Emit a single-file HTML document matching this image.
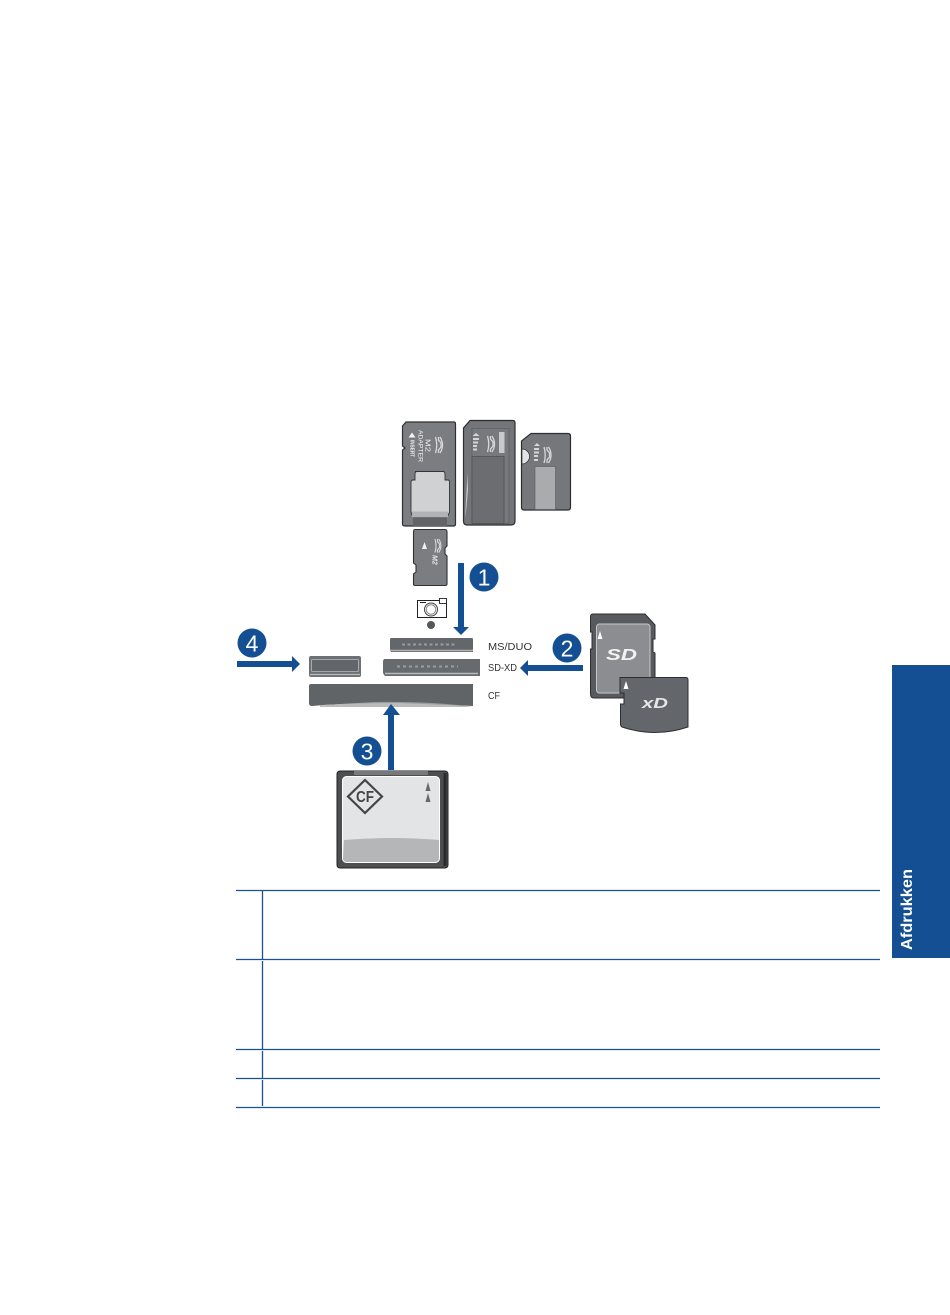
<!DOCTYPE html>
<html><head><meta charset="utf-8"><title>Afdrukken</title>
<style>html,body{margin:0;padding:0;background:#fff;width:950px;height:1315px;overflow:hidden}svg{display:block}text{font-family:"Liberation Sans",sans-serif}</style></head>
<body>
<svg width="950" height="1315" viewBox="0 0 950 1315" xmlns="http://www.w3.org/2000/svg">
<defs>
<g id="logo" fill="none" stroke="#d8d9da" stroke-width="1.300">
<path d="M0 5Q8 0 16 5"/><path d="M0 2.500H3L6 0H10L13 2.500H16" transform="translate(0,4)"/><path d="M0 9.500Q8 7 16 9.500"/>
</g>
</defs>
<rect width="950" height="1315" fill="#fff"/>
<!-- sidebar -->
<rect x="892" y="665" width="58" height="293" fill="#134f92"/>
<text transform="translate(912,950) rotate(-90)" fill="#fff" font-size="16" font-weight="bold" textLength="81" lengthAdjust="spacingAndGlyphs">Afdrukken</text>
<!-- table -->
<g stroke="#165296" stroke-width="1.300" fill="none">
<path d="M236 890.500H880M236 959.500H880M236 1049.500H880M236 1078.500H880M236 1107.500H880"/>
<path d="M262.500 891V959M262.500 961V1049M262.500 1051V1078M262.500 1080V1106"/>
</g>
<!-- M2 adapter -->
<path d="M406 422H454Q455.500 422 455.500 424V524Q455.500 526 454 526H405Q402.500 526 402.500 524V450L405 448L402.500 446V426Z" fill="#7b7d80" stroke="#2e3032" stroke-width="1.200"/>
<path d="M415 471.500H443Q445 471.500 445 474V480H448Q449.500 480 449.500 482V512L447 517.500H413L411 512V482Q411 480 413 480H415V474Q415 471.500 417 471.500Z" fill="#d0d1d3" stroke="#333" stroke-width=".9"/>
<rect x="412" y="511.500" width="36" height="6" fill="#b0b2b4"/>
<rect x="413" y="518" width="34" height="8" fill="#626467"/>
<path d="M412 432.500l-3.500 5h7z" fill="#f2f2f2"/>
<use href="#logo" transform="translate(445,437) rotate(90) scale(1,1)"/>
<text transform="translate(410.500,440) rotate(90)" fill="#eee" font-size="5" font-weight="bold" textLength="17" lengthAdjust="spacingAndGlyphs">INSERT</text>
<text transform="translate(418.500,430) rotate(90)" fill="#eee" font-size="6" textLength="32" lengthAdjust="spacingAndGlyphs">ADAPTER</text>
<text transform="translate(425.500,439) rotate(90)" fill="#eee" font-size="7" textLength="13" lengthAdjust="spacingAndGlyphs">M2</text>
<!-- card 2 -->
<path d="M470 420.500H513Q515 420.500 515 423V521Q515 525 511 525H467Q463.500 525 463.500 521V428Z" fill="#737578" stroke="#2c2e30" stroke-width="1.200"/>
<rect x="472" y="428.500" width="37" height="95" fill="#77797c" stroke="#5c5e61" stroke-width=".7"/>
<rect x="472" y="456.500" width="32" height="67" fill="#6b6d70" stroke="#505255" stroke-width=".8"/>
<rect x="499" y="432" width="5.500" height="21" fill="#c8c9cb"/>
<path d="M467.500 473L465.500 510V518L468 490Z" fill="#c8c9cb"/>
<g fill="#d4d5d6"><path d="M476 433l-3.500 3h7z"/><rect x="473" y="438" width="6" height="2"/><rect x="473" y="441.500" width="5" height="2"/><rect x="473" y="445" width="4" height="2"/><rect x="473" y="448.500" width="4" height="2"/></g>
<use href="#logo" transform="translate(497,436) rotate(90)"/>
<!-- card 3 -->
<path d="M531 433.500H568Q570.500 433.500 570.500 436V507Q570.500 510 568 510H524Q521.500 510 521.500 507V441Z" fill="#75777a" stroke="#2c2e30" stroke-width="1.200"/>
<path d="M522 449a7.500 7.500 0 0 1 0 15z" fill="#e2e3e4" stroke="#333" stroke-width=".7"/>
<rect x="535" y="466.500" width="20.500" height="43" fill="#a9abad" stroke="#5a5c5f" stroke-width=".6"/>
<g fill="#d4d5d6"><path d="M537 443l-3 3h6z"/><rect x="534" y="448" width="5" height="2"/><rect x="534" y="451.500" width="5" height="2"/><rect x="534" y="455" width="4" height="2"/><rect x="534" y="459" width="4" height="2"/></g>
<use href="#logo" transform="translate(553.500,447) rotate(90)"/>
<!-- M2 -->
<path d="M415 529.500H445Q447 529.500 447 532V546L445 548V554L447 556V584Q447 585.500 445 585.500H415Q413.500 585.500 413.500 584V574L416 572V565L413.500 563V532Q413.500 529.500 415 529.500Z" fill="#7b7d80" stroke="#2e3032" stroke-width="1.100"/>
<path d="M424.500 542l-2.500 7h5z" fill="#f2f2f2"/>
<use href="#logo" transform="translate(443,539) rotate(90) scale(.85)"/>
<text transform="translate(432.500,555) rotate(90)" fill="#e8e8e8" font-size="7" font-weight="bold" font-style="italic">M2</text>
<!-- camera -->
<rect x="417.500" y="600.500" width="29" height="17" fill="#fff" stroke="#222" stroke-width="1"/>
<rect x="439.500" y="598.500" width="7" height="5" fill="#fff" stroke="#222" stroke-width=".9"/>
<circle cx="431" cy="609.500" r="6.500" fill="none" stroke="#444" stroke-width="1"/>
<circle cx="431" cy="609.500" r="4.800" fill="none" stroke="#888" stroke-width="1"/>
<path d="M420 602.500h6" stroke="#222" stroke-width="1"/>
<circle cx="431" cy="625" r="4" fill="#55585b"/>
<!-- slots -->
<path d="M391 638H472Q473 638 473 640V652H391Q390 650 390 648V640Q390 638 391 638Z" fill="#63666a"/>
<path d="M391 650.500H473" stroke="#b0b2b4" stroke-width="1.500"/>
<path d="M402 644.500H455" stroke="#9a9c9e" stroke-width="2" stroke-dasharray="3 2.500"/>
<path d="M384 659H480V676H385Q383 674 383 672V662Q383 660 384 659Z" fill="#686b6e"/>
<path d="M385 673.500H478" stroke="#b8babc" stroke-width="1.500"/>
<path d="M397 666.500H458" stroke="#9a9c9e" stroke-width="2" stroke-dasharray="3 3"/>
<rect x="309" y="656" width="52" height="21" rx="2" fill="#6d7074"/>
<rect x="311.500" y="659.500" width="47" height="12" rx="1" fill="#62656a" stroke="#b8babc" stroke-width=".8"/>
<path d="M310 674.500H360" stroke="#b8babc" stroke-width="1.300"/>
<path d="M311 684H473V706L400 703Q340 703 312 706Q309 706 309 703V686Q309 684 311 684Z" fill="#606467"/>
<path d="M320 705.500Q380 701 395 702Q440 702 473 707H320Z" fill="#a8aaac" opacity=".8"/>
<!-- labels -->
<g fill="#333" font-size="10.500"><text x="488" y="650" textLength="44" lengthAdjust="spacingAndGlyphs">MS/DUO</text><text x="488" y="671" textLength="29" lengthAdjust="spacingAndGlyphs">SD-XD</text><text x="488" y="699" textLength="12" lengthAdjust="spacingAndGlyphs">CF</text></g>
<!-- arrows -->
<g fill="#134f92">
<path d="M458 563H464V627H469L461 635L453 627H458Z"/>
<path d="M583 665V671H528V676L520 668L528 660V665Z"/>
<path d="M388 770H394V715H400L391 704L383 715H388Z"/>
<path d="M237 661H292V656L300 664L292 672V667H237Z"/>
<circle cx="484" cy="577" r="14.500"/><circle cx="567" cy="648" r="14.500"/><circle cx="367" cy="751" r="14.500"/><circle cx="252" cy="643" r="14.500"/>
</g>
<g fill="#fff" font-size="23" text-anchor="middle"><text x="484" y="585.500">1</text><text x="567" y="656.500">2</text><text x="367" y="759.500">3</text><text x="252" y="651.500">4</text></g>
<!-- SD -->
<path d="M593 614H645L655 625V639H653V652L655 653V694Q655 698 651 698H594Q590.500 698 590.500 694V649H592V632H590.500V617Q590.500 614 593 614Z" fill="#585a5d" stroke="#2c2e30" stroke-width="1"/>
<rect x="596.500" y="624" width="53.500" height="69" rx="3" fill="#8b8d90" stroke="#c6c7c9" stroke-width="1"/>
<path d="M600 631l-2.500 8h5z" fill="#fff"/>
<text x="606" y="660" fill="#f2f2f2" font-size="16" font-weight="bold" font-style="italic" textLength="31" lengthAdjust="spacingAndGlyphs">SD</text>
<!-- xD -->
<path d="M620 677.500H686Q688 677.500 688 680V727Q655 738 622 727Q620.500 726 620.500 724V704H624V693H620V678Z" fill="#63666a" stroke="#2c2e30" stroke-width="1"/>
<path d="M626 681l-2.500 8h5z" fill="#fff"/>
<text x="642" y="708" fill="#e6e6e6" font-size="15" font-weight="bold" font-style="italic" textLength="26" lengthAdjust="spacingAndGlyphs">xD</text>
<!-- CF card -->
<rect x="337" y="771" width="111" height="97" rx="3" fill="#4c4e50" stroke="#222" stroke-width="1"/>
<rect x="354" y="771" width="74" height="4" fill="#77797b"/>
<rect x="342.500" y="776.500" width="97" height="86" rx="4" fill="#e3e4e5" stroke="#fff" stroke-width="1"/>
<path d="M344 840Q390 836 439 840V858Q439 862 435 862H347Q343 862 343 858Z" fill="#b5b6b8"/>
<path d="M445 773V866" stroke="#2a2b2c" stroke-width="3"/>
<path d="M365 780L382 796.500L365 813L348 796.500Z" fill="#e3e4e5" stroke="#444" stroke-width="2.200"/>
<text x="365" y="802" fill="#444" font-size="16" font-weight="bold" text-anchor="middle" textLength="18" lengthAdjust="spacingAndGlyphs">CF</text>
<g fill="#66686a"><path d="M428 782l-2.500 9h5z"/><path d="M428 793l-2.500 9h5z"/></g>
</svg>
</body></html>
